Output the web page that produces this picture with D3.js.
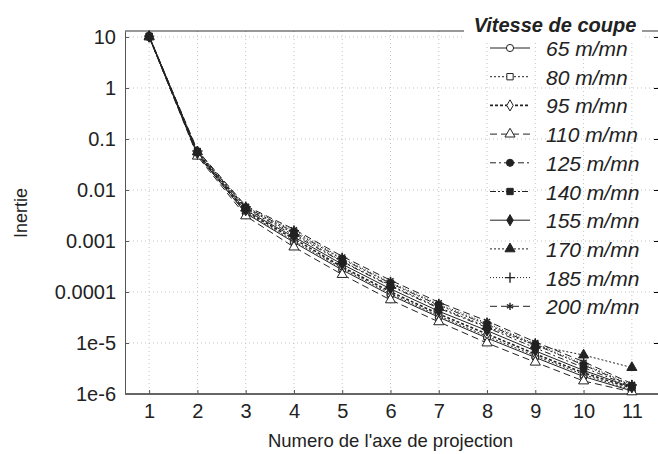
<!DOCTYPE html>
<html>
<head>
<meta charset="utf-8">
<script src="https://cdn.jsdelivr.net/npm/d3@7"></script>
<style>
  body { margin: 0; background: #fff; }
  svg { display: block; font-family: "Liberation Sans", Arial, sans-serif; }
</style>
</head>
<body>
<div id="chart"></div>
<script>
// axis numbers (x) and inertia values for each cutting speed
const axes = [1, 2, 3, 4, 5, 6, 7, 8, 9, 10, 11];
const speeds = ["65 m/mn", "80 m/mn", "95 m/mn", "110 m/mn", "125 m/mn",
                "140 m/mn", "155 m/mn", "170 m/mn", "185 m/mn", "200 m/mn"];

const v65  = [10.1, 0.049, 0.0035, 0.00094, 0.00027, 0.000087, 0.000032, 1.25e-5, 5.2e-6, 2.2e-6, 1.15e-6];
const v80  = [10.1, 0.050, 0.0036, 0.0010, 0.00029, 0.000093, 0.000034, 1.35e-5, 5.6e-6, 2.4e-6, 1.2e-6];
const v95  = [10.2, 0.051, 0.0038, 0.0011, 0.00031, 0.000101, 0.000037, 1.5e-5, 6.1e-6, 2.6e-6, 1.3e-6];
const v110 = [10.0, 0.046, 0.0031, 0.00076, 0.00022, 0.000070, 0.000026, 1.0e-5, 4.2e-6, 1.8e-6, 1.1e-6];
const v125 = [10.3, 0.055, 0.0043, 0.0013, 0.00039, 0.000130, 0.000048, 2.0e-5, 8.0e-6, 3.3e-6, 1.4e-6];
const v140 = [10.4, 0.057, 0.0046, 0.0015, 0.00044, 0.000148, 0.000055, 2.3e-5, 9.2e-6, 3.7e-6, 1.45e-6];
const v155 = [10.2, 0.053, 0.0040, 0.0012, 0.00035, 0.000115, 0.000042, 1.75e-5, 7.0e-6, 2.9e-6, 1.35e-6];
const v170 = [10.3, 0.056, 0.0044, 0.0014, 0.00040, 0.000135, 0.000050, 2.1e-5, 9.0e-6, 5.8e-6, 3.3e-6];
const v185 = [10.4, 0.058, 0.0047, 0.0016, 0.00046, 0.000155, 0.000058, 2.45e-5, 9.6e-6, 3.9e-6, 1.5e-6];
const v200 = [10.5, 0.060, 0.0049, 0.0017, 0.00050, 0.000170, 0.000063, 2.7e-5, 1.05e-5, 4.3e-6, 1.6e-6];

const yTicks = [1e-6, 1e-5, 1e-4, 1e-3, 1e-2, 1e-1, 1, 10];
const yTickLabels = ["1e-6", "1e-5", "0.0001", "0.001", "0.01", "0.1", "1", "10"];

// style per series: dash pattern, marker, filled or not
const styles = [
  { dash: null,          sym: d3.symbolCircle,    fill: false, w: 1 },
  { dash: "2,2",         sym: d3.symbolSquare,    fill: false, w: 1 },
  { dash: "3,2",         sym: d3.symbolDiamond,   fill: false, w: 1.6 },
  { dash: "7,4",         sym: d3.symbolTriangle,  fill: false, w: 1 },
  { dash: "6,3,2,3",     sym: d3.symbolCircle,    fill: true,  w: 1 },
  { dash: "6,2,2,2,2,2", sym: d3.symbolSquare,    fill: true,  w: 1 },
  { dash: null,          sym: d3.symbolDiamond,   fill: true,  w: 1 },
  { dash: "2,2",         sym: d3.symbolTriangle,  fill: true,  w: 1 },
  { dash: "1,2",         sym: d3.symbolPlus,      fill: true,  w: 1 },
  { dash: "7,4",         sym: d3.symbolAsterisk,  fill: true,  w: 1 }
];

const series = [v65, v80, v95, v110, v125, v140, v155, v170, v185, v200].map((vals, i) => ({
  name: speeds[i],
  style: styles[i],
  points: axes.map((a, j) => ({ x: a, y: vals[j] }))
}));

const W = 658, H = 454;
const mLeft = 125, mRight = 656, mTop = 31, mBottom = 394;
const ink = "#222";

const svg = d3.select("#chart").append("svg")
  .attr("width", W)
  .attr("height", H);

const x = d3.scaleLinear().domain([0.5, 11.5]).range([mLeft, mRight]);
const y = d3.scaleLog().domain([1e-6, 13.1]).range([mBottom, mTop]);

//--- grid
const grid = svg.append("g")
  .attr("stroke", "#c4c4c4")
  .attr("stroke-dasharray", "1,3");
grid.selectAll(".vg").data(axes).enter().append("line")
  .attr("x1", d => x(d)).attr("x2", d => x(d))
  .attr("y1", mTop).attr("y2", mBottom);
grid.selectAll(".hg").data(yTicks.slice(1)).enter().append("line")
  .attr("x1", mLeft).attr("x2", W)
  .attr("y1", d => y(d)).attr("y2", d => y(d));

//--- axes
const yAxis = svg.append("g")
  .attr("transform", "translate(" + mLeft + ",0)")
  .call(d3.axisLeft(y).tickValues(yTicks)
    .tickFormat((d, i) => yTickLabels[i])
    .tickSizeInner(-4).tickSizeOuter(0).tickPadding(9));
yAxis.select(".domain").attr("stroke", "#555");
yAxis.selectAll(".tick line").attr("stroke", "#555");
yAxis.selectAll("text").style("font-size", "20px").attr("fill", ink);

// right side ticks (axis line sits beyond the picture)
svg.append("g")
  .attr("transform", "translate(" + W + ",0)")
  .call(d3.axisRight(y).tickValues(yTicks).tickFormat("").tickSizeInner(-4).tickSizeOuter(0))
  .select(".domain").remove();

const xAxis = svg.append("g")
  .attr("transform", "translate(0," + mBottom + ")")
  .call(d3.axisBottom(x).tickValues(axes)
    .tickSizeInner(-4).tickSizeOuter(0).tickPadding(10));
xAxis.select(".domain").attr("stroke", "#666").attr("stroke-width", 2)
  .attr("d", "M" + mLeft + ",0H" + W);
xAxis.selectAll(".tick line").attr("stroke", "#555");
xAxis.selectAll("text").style("font-size", "20px").attr("fill", ink);

// top frame line
svg.append("line")
  .attr("x1", mLeft).attr("x2", W)
  .attr("y1", mTop).attr("y2", mTop)
  .attr("stroke", "#333");

//--- axis titles
svg.append("text")
  .attr("transform", "translate(27,213) rotate(-90)")
  .style("text-anchor", "middle")
  .style("font-size", "18px")
  .attr("fill", ink)
  .text("Inertie");

svg.append("text")
  .attr("x", (mLeft + mRight) / 2)
  .attr("y", 447)
  .style("text-anchor", "middle")
  .style("font-size", "18.5px")
  .attr("fill", ink)
  .text("Numero de l'axe de projection");

//--- lines and markers
const line = d3.line().x(d => x(d.x)).y(d => y(d.y));

const plot = svg.append("g");
plot.selectAll(".serie").data(series).enter().append("path")
  .attr("d", d => line(d.points))
  .attr("fill", "none")
  .attr("stroke", ink)
  .attr("stroke-width", d => d.style.w)
  .attr("stroke-dasharray", d => d.style.dash);

function drawMarker(g, st, cx, cy) {
  const isStroke = st.sym === d3.symbolPlus || st.sym === d3.symbolAsterisk;
  const size = st.sym === d3.symbolTriangle ? 44 : (st.sym === d3.symbolDiamond ? 36 : (isStroke ? 36 : 40));
  g.append("path")
    .attr("transform", "translate(" + cx + "," + cy + ")")
    .attr("d", d3.symbol().type(st.sym).size(size)())
    .attr("fill", isStroke ? "none" : (st.fill ? ink : "#fff"))
    .attr("stroke", ink)
    .attr("stroke-width", isStroke ? 1.4 : 1);
}

series.forEach(s => {
  s.points.forEach(p => drawMarker(plot, s.style, x(p.x), y(p.y)));
});

//--- legend
const legend = svg.append("g");
legend.append("rect")
  .attr("x", 464).attr("y", 20)
  .attr("width", 178).attr("height", 22)
  .attr("fill", "#fff");
legend.append("text")
  .attr("x", 555).attr("y", 32)
  .style("text-anchor", "middle")
  .style("font-size", "20px")
  .style("font-weight", "bold")
  .style("font-style", "italic")
  .attr("fill", ink)
  .text("Vitesse de coupe");

const items = legend.selectAll(".legend-item")
  .data(series).enter().append("g")
  .attr("class", "legend-item")
  .attr("transform", (d, i) => "translate(0," + (48 + i * 28.7) + ")");

items.append("line")
  .attr("x1", 490).attr("x2", 530)
  .attr("stroke", ink)
  .attr("stroke-width", d => d.style.w)
  .attr("stroke-dasharray", d => d.style.dash);
items.each(function(d) { drawMarker(d3.select(this), d.style, 510, 0); });
items.append("text")
  .attr("x", 546).attr("y", 8)
  .style("font-size", "21px")
  .style("font-style", "italic")
  .attr("fill", ink)
  .text(d => d.name);
</script>
</body>
</html>
